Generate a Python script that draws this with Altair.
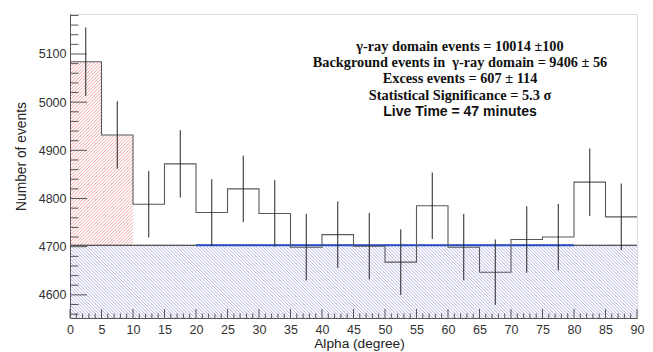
import altair as alt
import pandas as pd
import numpy as np

# ---------------- data ----------------
bin_low = [0, 5, 10, 15, 20, 25, 30, 35, 40, 45, 50, 55, 60, 65, 70, 75, 80, 85]
bin_width = 5
counts = [5084, 4932, 4788, 4872, 4771, 4820, 4769, 4699, 4725,
          4701, 4668, 4785, 4699, 4647, 4715, 4720, 4834, 4762]
errors = [71, 70, 69, 70, 69, 69, 69, 69, 69,
          69, 68, 69, 69, 68, 69, 69, 70, 69]
background_level = 4703
fit_range = [20, 80]
signal_range = [0, 10]
x_major = list(range(0, 95, 5))
x_minor = [v for v in range(0, 91) if v % 5 != 0]
y_major = [4600, 4700, 4800, 4900, 5000, 5100]
y_minor = [v for v in range(4560, 5183, 20) if v % 100 != 0]
serif_lines = ["γ-ray domain events = 10014 ±100",
               "Background events in \u00a0γ-ray domain = 9406 ± 56",
               "Excess events = 607 ± 114",
               "Statistical Significance = 5.3 σ"]
sans_lines = ["Live Time = 47 minutes"]

# ---------------- layout ----------------
W, H = 567, 304
XDOM = [0, 90]
YDOM = [4552, 5183]
xs = alt.Scale(domain=XDOM, nice=False, zero=False)
ys = alt.Scale(domain=YDOM, nice=False, zero=False)
font_sans = "Liberation Sans"
font_serif = "Liberation Serif"

xaxis = alt.Axis(
    values=x_major, ticks=False, grid=False, title="Alpha (degree)", format="d",
    labelFont=font_sans, labelFontSize=12.5, labelColor="#333", labelPadding=5,
    labelFlush=False, domainColor="#555",
    titleFont=font_sans, titleFontSize=13.7, titleFontWeight="normal", titleColor="#222",
    titleX=289, titleY=25, titleBaseline="middle", titleAlign="center")
yaxis = alt.Axis(
    values=y_major, ticks=False, grid=False, title="Number of events", format="d",
    labelFont=font_sans, labelFontSize=12.5, labelColor="#333", labelPadding=4,
    labelFlush=False, domainColor="#555",
    titleFont=font_sans, titleFontSize=13.8, titleFontWeight="normal", titleColor="#222",
    titleX=-49, titleY=142, titleAngle=-90, titleAlign="center", titleBaseline="middle")


def X(f):
    return alt.X(f, scale=xs, axis=xaxis)


def Y(f):
    return alt.Y(f, scale=ys, axis=yaxis)


def px(x):
    return (x - XDOM[0]) / (XDOM[1] - XDOM[0]) * W


def py(v):
    return (v - YDOM[0]) / (YDOM[1] - YDOM[0]) * H


def inv_x(p):
    return XDOM[0] + p / W * (XDOM[1] - XDOM[0])


def inv_y(p):
    return YDOM[0] + p / H * (YDOM[1] - YDOM[0])


def hatch(xa, xb, va, vb, forward, step=3.3):
    """Hatch segments (in data units) clipped to a rectangle."""
    X0, X1, Y0, Y1 = px(xa), px(xb), py(va), py(vb)
    segs = []
    if forward:  # "/" : y = x - c
        k0 = int(np.floor((X0 - Y1) / step))
        k1 = int(np.ceil((X1 - Y0) / step))
        for k in range(k0, k1 + 1):
            c = k * step
            a, b = max(X0, Y0 + c), min(X1, Y1 + c)
            if b - a > 0.2:
                segs.append((inv_x(a), inv_y(a - c), inv_x(b), inv_y(b - c)))
    else:  # "\" : y = c - x
        k0 = int(np.floor((X0 + Y0) / step))
        k1 = int(np.ceil((X1 + Y1) / step))
        for k in range(k0, k1 + 1):
            c = k * step
            a, b = max(X0, c - Y1), min(X1, c - Y0)
            if b - a > 0.2:
                segs.append((inv_x(a), inv_y(c - a), inv_x(b), inv_y(c - b)))
    return pd.DataFrame(segs, columns=["x", "y", "x2", "y2"])


blue_hatch = hatch(XDOM[0], XDOM[1], YDOM[0], background_level, forward=False)
red_parts = []
for lo, c in zip(bin_low, counts):
    if lo >= signal_range[0] and lo + bin_width <= signal_range[1]:
        red_parts.append(hatch(lo, lo + bin_width, background_level, c, forward=True))
red_hatch = pd.concat(red_parts, ignore_index=True)

step_rows = []
for i, (lo, c) in enumerate(zip(bin_low, counts)):
    step_rows.append({"x": lo, "y": c, "o": 2 * i})
    step_rows.append({"x": lo + bin_width, "y": c, "o": 2 * i + 1})
step_df = pd.DataFrame(step_rows)

err_df = pd.DataFrame({
    "x": [lo + bin_width / 2 for lo in bin_low],
    "lo": [c - e for c, e in zip(counts, errors)],
    "hi": [c + e for c, e in zip(counts, errors)],
})

base = alt.Chart(pd.DataFrame({"x": [XDOM[0]], "y": [YDOM[0]]})).mark_point(opacity=0).encode(
    x=X("x:Q"), y=Y("y:Q"))

box = alt.Chart(pd.DataFrame({"a": [0]})).mark_rect(color="white").encode(
    x=alt.value(210), x2=alt.value(W - 1), y=alt.value(13), y2=alt.value(136))

blue_layer = alt.Chart(blue_hatch).mark_rule(color="#9494d2", strokeWidth=0.7, clip=True).encode(
    x=X("x:Q"), y=Y("y:Q"), x2="x2:Q", y2="y2:Q")

red_layer = alt.Chart(red_hatch).mark_rule(color="#ec8080", strokeWidth=0.7, clip=True).encode(
    x=X("x:Q"), y=Y("y:Q"), x2="x2:Q", y2="y2:Q")

bg_line = alt.Chart(pd.DataFrame({"x": [XDOM[0]], "x2": [XDOM[1]], "y": [background_level]})).mark_rule(
    color="#222", strokeWidth=1.2).encode(x=X("x:Q"), x2="x2:Q", y=Y("y:Q"))

fit_line = alt.Chart(pd.DataFrame({"x": [fit_range[0]], "x2": [fit_range[1]], "y": [background_level]})).mark_rule(
    color="#2a4cc8", strokeWidth=2.2).encode(x=X("x:Q"), x2="x2:Q", y=Y("y:Q"))

hist = alt.Chart(step_df).mark_line(color="#5a5a5a", strokeWidth=1.1, clip=True).encode(
    x=X("x:Q"), y=Y("y:Q"), order="o:Q")

err = alt.Chart(err_df).mark_rule(color="#222", strokeWidth=1).encode(
    x=X("x:Q"), y=Y("lo:Q"), y2="hi:Q")

ytick_major = alt.Chart(pd.DataFrame({"y": y_major})).mark_rule(color="#555").encode(
    y=Y("y:Q"), x=alt.value(0), x2=alt.value(17))
ytick_minor = alt.Chart(pd.DataFrame({"y": y_minor})).mark_rule(color="#555").encode(
    y=Y("y:Q"), x=alt.value(0), x2=alt.value(8.5))
xtick_major = alt.Chart(pd.DataFrame({"x": x_major})).mark_rule(color="#555").encode(
    x=X("x:Q"), y=alt.value(H), y2=alt.value(H - 9))
xtick_minor = alt.Chart(pd.DataFrame({"x": x_minor})).mark_rule(color="#555").encode(
    x=X("x:Q"), y=alt.value(H), y2=alt.value(H - 4.5))

serif_df = pd.DataFrame({"t": serif_lines, "i": list(range(len(serif_lines)))})
serif_df["py"] = 33 + serif_df["i"] * 16.2
sans_df = pd.DataFrame({"t": sans_lines, "i": list(range(len(serif_lines), len(serif_lines) + len(sans_lines)))})
sans_df["py"] = 33 + sans_df["i"] * 16.2

serif_text = alt.Chart(serif_df).mark_text(
    font=font_serif, fontSize=14.3, fontWeight="bold", color="#111", align="center", baseline="middle").encode(
    text="t:N", x=alt.value(390), y=alt.Y("py:Q", scale=None, axis=None))
sans_text = alt.Chart(sans_df).mark_text(
    font=font_sans, fontSize=14, fontWeight="bold", color="#111", align="center", baseline="middle").encode(
    text="t:N", x=alt.value(390), y=alt.Y("py:Q", scale=None, axis=None))

chart = alt.layer(
    base, box, blue_layer, red_layer, bg_line, fit_line, hist, err,
    ytick_major, ytick_minor, xtick_major, xtick_minor, serif_text, sans_text
).properties(
    width=W, height=H,
    autosize=alt.AutoSizeParams(type="none"),
    padding={"left": 70, "top": 14, "right": 16, "bottom": 34},
).configure_view(
    stroke="#8a8a8a", strokeWidth=1, fill="#f9f9f9"
).configure(background="white")

chart.save("out.html", embed_options={"renderer": "svg", "actions": False})
